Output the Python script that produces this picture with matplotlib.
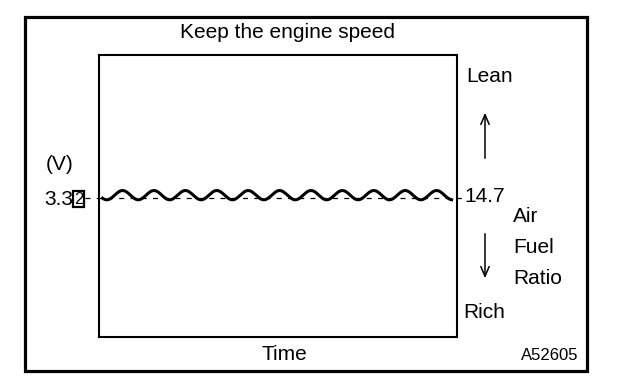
import numpy as np
import matplotlib.pyplot as plt
from matplotlib.patches import Rectangle

plt.rcParams['font.family'] = ['Liberation Sans', 'DejaVu Sans']

# values
v_center = 3.32        # sensor voltage held steady
v_amp = 0.11           # ripple amplitude (V)
n_cycles = 11.4        # ripple cycles across the time window
afr_label = "14.7"
title = "Keep the engine speed"
side_labels = ["Air", "Fuel", "Ratio"]

fig = plt.figure(figsize=(6.24, 3.86), dpi=100)
fig.patch.set_facecolor("white")

# outer frame
fig.patches.append(Rectangle((25 / 624, 1 - 371 / 386), 562 / 624, 354 / 386,
                             transform=fig.transFigure, fill=False,
                             edgecolor="black", linewidth=2.3))

ax = fig.add_axes([99 / 624, 49 / 386, 358 / 624, 282 / 386])
ax.set_xlim(0, 1)
ax.set_ylim(0, 6.7)
ax.set_xticks([])
ax.set_yticks([])
for s in ax.spines.values():
    s.set_linewidth(1.5)

t = np.linspace(0.01, 0.985, 600)
ax.plot(t, v_center + 0.05 + v_amp * np.sin(2 * np.pi * n_cycles * t + np.pi),
        color="black", linewidth=2.2)
ax.plot([-0.04, 1.015], [v_center - 0.02] * 2, color="black", linewidth=0.9,
        dashes=(4, 5), clip_on=False)

fs = 15
fig.text(287 / 624, 1 - 33 / 386, title, fontsize=fs, ha="center", va="center")
fig.text(284 / 624, 1 - 355 / 386, "Time", fontsize=fs, ha="center", va="center")

fig.text(60 / 624, 1 - 165 / 386, "(V)", fontsize=fs, ha="center", va="center")
fig.text(73 / 624, 1 - 199 / 386, "3.3", fontsize=fs, ha="right", va="center")
fig.text(74 / 624, 1 - 199 / 386, "2", fontsize=fs - 3, ha="left", va="center",
         bbox=dict(boxstyle="square,pad=0.05", fc="white", ec="black", lw=1.6))

fig.text(464 / 624, 1 - 197 / 386, afr_label, fontsize=fs, ha="left", va="center")
fig.text(466 / 624, 1 - 76 / 386, "Lean", fontsize=fs, ha="left", va="center")
fig.text(463 / 624, 1 - 312 / 386, "Rich", fontsize=fs, ha="left", va="center")
for i, lab in enumerate(side_labels):
    fig.text(513 / 624, 1 - (216 + 31.5 * i) / 386, lab, fontsize=fs,
             ha="left", va="center")

fig.text(578 / 624, 1 - 355 / 386, "A52605", fontsize=12, ha="right", va="center")

# Lean / Rich arrows
arrow = dict(arrowstyle="->,head_length=0.7,head_width=0.3", color="black", lw=1.1)
ax.annotate("", xy=(485 / 624, 1 - 110 / 386), xytext=(485 / 624, 1 - 161 / 386),
            xycoords="figure fraction", arrowprops=arrow, annotation_clip=False)
ax.annotate("", xy=(485 / 624, 1 - 281 / 386), xytext=(485 / 624, 1 - 231 / 386),
            xycoords="figure fraction", arrowprops=arrow, annotation_clip=False)

fig.savefig("out.png", dpi=100, facecolor="white")
